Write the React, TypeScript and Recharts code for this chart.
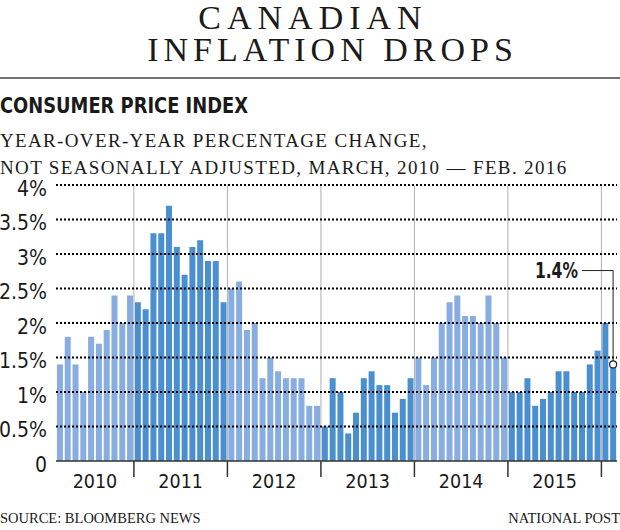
import React from 'react';
import { BarChart, Bar, XAxis, YAxis, Cell, ReferenceLine, ReferenceDot } from 'recharts';

// ---- data ----
const monthNames = ['01', '02', '03', '04', '05', '06', '07', '08', '09', '10', '11', '12'];
const cpi2010 = [1.4, 1.8, 1.4, 1.0, 1.8, 1.7, 1.9, 2.4, 2.0, 2.4]; // Mar - Dec
const cpi2011 = [2.3, 2.2, 3.3, 3.3, 3.7, 3.1, 2.7, 3.1, 3.2, 2.9, 2.9, 2.3];
const cpi2012 = [2.5, 2.6, 1.9, 2.0, 1.2, 1.5, 1.3, 1.2, 1.2, 1.2, 0.8, 0.8];
const cpi2013 = [0.5, 1.2, 1.0, 0.4, 0.7, 1.2, 1.3, 1.1, 1.1, 0.7, 0.9, 1.2];
const cpi2014 = [1.5, 1.1, 1.5, 2.0, 2.3, 2.4, 2.1, 2.1, 2.0, 2.4, 2.0, 1.5];
const cpi2015 = [1.0, 1.0, 1.2, 0.8, 0.9, 1.0, 1.3, 1.3, 1.0, 1.0, 1.4, 1.6];
const cpi2016 = [2.0, 1.4]; // Jan - Feb
const years = ['2010', '2011', '2012', '2013', '2014', '2015', '2016'];
const yearSeries = [cpi2010, cpi2011, cpi2012, cpi2013, cpi2014, cpi2015, cpi2016];
const yearStartMonth = [2, 0, 0, 0, 0, 0, 0];
const yearShade = ['light', 'dark', 'light', 'dark', 'light', 'dark', 'dark'];
// month after which the year label is centred
const yearLabelMonth: Record<string, string> = {
  '2010-07': '2010',
  '2011-06': '2011',
  '2012-06': '2012',
  '2013-06': '2013',
  '2014-06': '2014',
  '2015-06': '2015',
};
const yTicks = [0, 0.5, 1, 1.5, 2, 2.5, 3, 3.5, 4];
const yTickLabels = ['0', '0.5%', '1%', '1.5%', '2%', '2.5%', '3%', '3.5%', '4%'];
const lastValueLabel = '1.4%';
const annotationLevel = 2.76;

const data = years.flatMap((yr, yi) =>
  yearSeries[yi].map((v, i) => ({
    month: `${yr}-${monthNames[yearStartMonth[yi] + i]}`,
    cpi: v,
    shade: yearShade[yi],
  }))
);
const lastMonth = data[data.length - 1].month;
const annotationStart = data[data.length - 5].month;

// ---- style ----
const W = 620;
const H = 530;
const TOP = 185;
const XAXIS_H = 69;
const YAXIS_W = 56;
const RIGHT = 3;
const STEP = (W - YAXIS_W - RIGHT) / data.length;
const DARK = '#4a8fcf';
const LIGHT = '#88ade0';
const NARROW = "'Liberation Sans Narrow', 'DejaVu Sans Condensed', 'Roboto Condensed', sans-serif";
const SERIF = "'Liberation Serif', 'DejaVu Serif', serif";
const INK = '#1a1a1a';

const YTick = (props: any) => {
  const { x, y, payload } = props;
  const idx = yTicks.indexOf(payload.value);
  return (
    <text x={x} y={y} dy={10.5} textAnchor="end" fontFamily={NARROW} fontSize={21} fill={INK}>
      {yTickLabels[idx]}
    </text>
  );
};

const XTick = (props: any) => {
  const { x, y, payload } = props;
  const m: string = payload.value;
  const isJan = m.endsWith('-01');
  const label = yearLabelMonth[m];
  return (
    <g>
      {isJan && (
        <line x1={x - STEP / 2} x2={x - STEP / 2} y1={y} y2={y + 16} stroke="#333" strokeWidth={1.5} />
      )}
      {label && (
        <text x={x + STEP / 2} y={y + 27} textAnchor="middle" fontFamily={NARROW} fontSize={19.5} fill={INK}>
          {label}
        </text>
      )}
    </g>
  );
};

const AnnotLabel = (props: any) => {
  const vb = props.viewBox || {};
  const cx = (vb.x ?? 0) + (vb.width ?? 0) / 2;
  const cy = (vb.y ?? 0) + (vb.height ?? 0) / 2;
  return (
    <text
      x={cx - 4}
      y={cy + 7.5}
      textAnchor="end"
      fontFamily={NARROW}
      fontWeight="bold"
      fontSize={21}
      fill={INK}
      textLength={43}
      lengthAdjust="spacingAndGlyphs"
    >
      {lastValueLabel}
    </text>
  );
};

export default function App() {
  const janMonths = data.filter((d) => d.month.endsWith('-01')).map((d) => d.month);
  return (
    <div style={{ position: 'fixed', left: 0, top: 0, width: W, height: H, background: '#fff' }}>
      <style>{`body{margin:0}`}</style>
      <svg width={W} height={H} style={{ position: 'absolute', left: 0, top: 0 }}>
        <text x={310 + 3} y={29} textAnchor="middle" fontFamily={SERIF} fontSize={34} fill={INK} style={{ letterSpacing: 6 }}>
          CANADIAN
        </text>
        <text x={330 + 2.5} y={61} textAnchor="middle" fontFamily={SERIF} fontSize={34} fill={INK} style={{ letterSpacing: 5 }}>
          INFLATION DROPS
        </text>
        <line x1={0} x2={W} y1={78} y2={78} stroke="#444" strokeWidth={1.5} />
        <text x={0} y={112.5} fontFamily={NARROW} fontWeight="bold" fontSize={22} fill={INK} textLength={248} lengthAdjust="spacingAndGlyphs">
          CONSUMER PRICE INDEX
        </text>
        <text x={0} y={147} fontFamily={SERIF} fontSize={19} fill={INK} style={{ letterSpacing: 1.35 }}>
          YEAR-OVER-YEAR PERCENTAGE CHANGE,
        </text>
        <text x={0} y={174} fontFamily={SERIF} fontSize={19} fill={INK} style={{ letterSpacing: 1.35 }}>
          NOT SEASONALLY ADJUSTED, MARCH, 2010 — FEB. 2016
        </text>
        <text x={0} y={523} fontFamily={SERIF} fontSize={14.5} fill={INK}>
          SOURCE: BLOOMBERG NEWS
        </text>
        <text x={W} y={523} textAnchor="end" fontFamily={SERIF} fontSize={14.5} fill={INK}>
          NATIONAL POST
        </text>
      </svg>
      <div style={{ position: 'absolute', left: 0, top: 0 }}>
        <BarChart
          width={W}
          height={H}
          data={data}
          margin={{ top: TOP, right: RIGHT, bottom: 0, left: 0 }}
          barCategoryGap="12%"
        >
          <XAxis
            dataKey="month"
            interval={0}
            height={XAXIS_H}
            tickLine={false}
            tickSize={0}
            tickMargin={0}
            axisLine={{ stroke: '#333', strokeWidth: 1.5 }}
            tick={<XTick />}
          />
          <YAxis
            width={YAXIS_W}
            domain={[0, 4]}
            ticks={yTicks}
            axisLine={false}
            tickLine={false}
            tickSize={0}
            tickMargin={9}
            tick={<YTick />}
          />
          {janMonths.map((m) => (
            <ReferenceLine key={m} x={m} position="start" stroke="#b0b0b0" strokeWidth={1} />
          ))}
          <Bar dataKey="cpi" isAnimationActive={false}>
            {data.map((d) => (
              <Cell key={d.month} fill={d.shade === 'dark' ? DARK : LIGHT} />
            ))}
          </Bar>
          {yTicks.slice(1).map((t) => (
            <ReferenceLine key={t} y={t} stroke="#000" strokeWidth={2} strokeDasharray="2 2" />
          ))}
          <ReferenceLine
            segment={[
              { x: annotationStart, y: annotationLevel },
              { x: lastMonth, y: annotationLevel },
            ]}
            stroke="#222"
            strokeWidth={1}
          />
          <ReferenceLine
            segment={[
              { x: lastMonth, y: annotationLevel },
              { x: lastMonth, y: cpi2016[1] },
            ]}
            stroke="#222"
            strokeWidth={1}
          />
          <ReferenceDot x={lastMonth} y={cpi2016[1]} r={3.5} fill="#fff" stroke="#222" strokeWidth={1.2} />
          <ReferenceDot x={annotationStart} y={annotationLevel} r={0} fill="none" stroke="none" label={<AnnotLabel />} />
        </BarChart>
      </div>
    </div>
  );
}
